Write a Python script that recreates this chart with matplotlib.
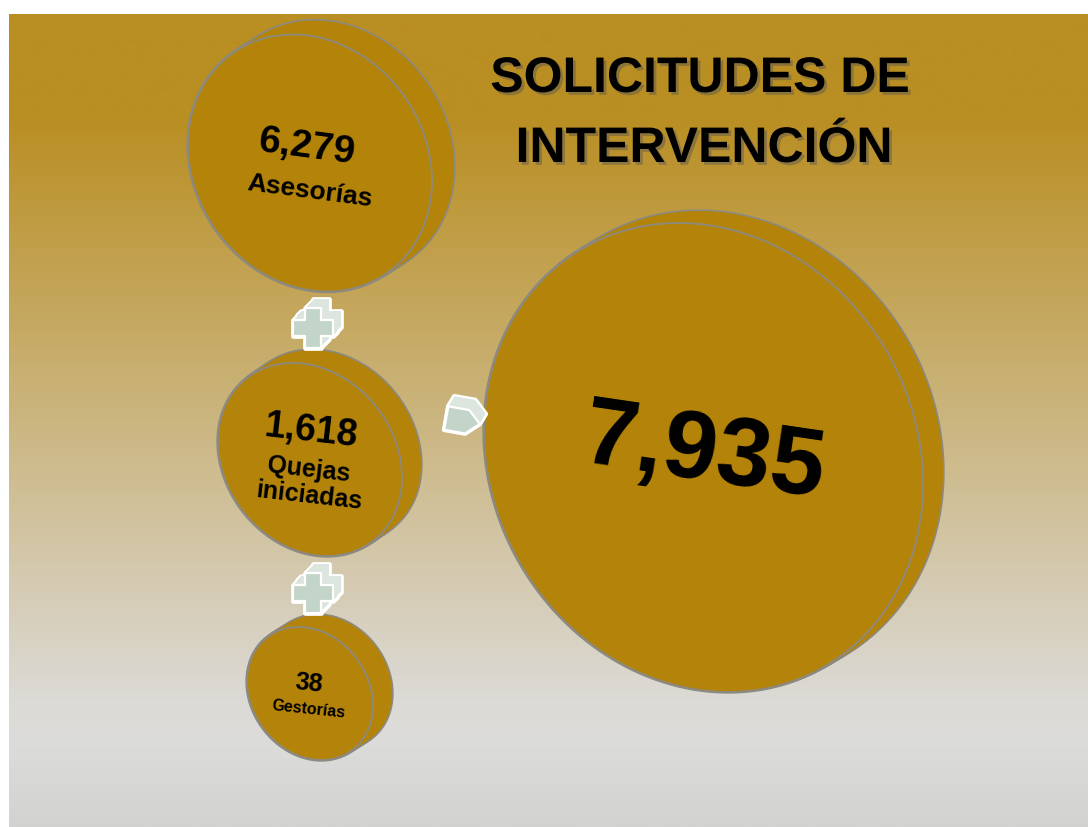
import matplotlib.pyplot as plt
import matplotlib.patheffects as pe
import numpy as np
from matplotlib.patches import Polygon

# data
values = [6279, 1618, 38]
labels = ["Asesorías", "Quejas\niniciadas", "Gestorías"]
total = sum(values)
title_lines = ["SOLICITUDES DE", "INTERVENCIÓN"]

disk_fill = "#B3830A"
disk_edge = "#8C8A80"
icon_fill = "#C3D5C9"
icon_side = "#DCE6DE"
font = "Liberation Sans"

W, H = 1088, 827
fig = plt.figure(figsize=(W / 100, H / 100), dpi=100)
fig.patch.set_facecolor("white")
ax = fig.add_axes([0, 0, 1, 1])
ax.set_xlim(0, W)
ax.set_ylim(H, 0)
ax.axis("off")

# background gradient (gold at top to light grey at bottom)
ys = np.arange(14, H + 1)
stops_y = [14, 115, 700, 740, H]
stops_c = np.array([[185, 142, 34], [185, 142, 34], [220, 218, 214],
                    [220, 220, 218], [210, 210, 208]]) / 255
grad = np.stack([np.interp(ys, stops_y, stops_c[:, i]) for i in range(3)], axis=1)
ax.imshow(grad[:, None, :], extent=[9, W, H, 14], aspect="auto", zorder=0)


def ellipse(cx, cy, sx, sy, sk, n=240):
    cov = np.array([[sx ** 2, sk * sx], [sk * sx, sy ** 2]])
    L = np.linalg.cholesky(cov)
    t = np.linspace(0, 2 * np.pi, n)
    pts = L @ np.vstack([np.cos(t), np.sin(t)])
    return np.column_stack([cx + pts[0], cy + pts[1]])


def disk(cx, cy, sx, sy, sk, off, z):
    steps = np.linspace(1, 0, 14)
    for k in steps:
        p = ellipse(cx + k * off[0], cy + k * off[1], sx, sy, sk)
        ax.add_patch(Polygon(p, closed=True, fc=disk_fill, ec=disk_edge, lw=2.4, zorder=z))
    for k in steps:
        p = ellipse(cx + k * off[0], cy + k * off[1], sx, sy, sk)
        ax.add_patch(Polygon(p, closed=True, fc=disk_fill, ec="none", zorder=z + 0.1))
    p = ellipse(cx, cy, sx, sy, sk)
    ax.add_patch(Polygon(p, closed=True, fc=disk_fill, ec=disk_edge, lw=1.3, zorder=z + 0.2))


def icon(shape, cx, cy, s, off, rot, z):
    a = np.deg2rad(rot)
    R = np.array([[np.cos(a), -np.sin(a)], [np.sin(a), np.cos(a)]])
    base = (np.array(shape) @ R.T) * s
    steps = np.linspace(1, 0, 10)
    for k in steps:
        ax.add_patch(Polygon(base + [cx + k * off[0], cy + k * off[1]], closed=True,
                             fc=icon_side, ec="white", lw=3.4, joinstyle="round", zorder=z))
    for k in steps:
        ax.add_patch(Polygon(base + [cx + k * off[0], cy + k * off[1]], closed=True,
                             fc=icon_side, ec="none", zorder=z + 0.1))
    ax.add_patch(Polygon(base + [cx, cy], closed=True, fc=icon_fill, ec="white",
                         lw=1.6, joinstyle="round", zorder=z + 0.2))


w = 0.38
plus = [(-w, -1), (w, -1), (w, -w), (1, -w), (1, w), (w, w), (w, 1), (-w, 1),
        (-w, w), (-1, w), (-1, -w), (-w, -w)]
arrow = [(-1, -0.7), (0.25, -0.7), (1, 0), (0.25, 0.7), (-1, 0.7)]

# disks
disk(310, 163, 122, 128.5, 18, (22, -14), 2)
disk(310, 459.5, 92, 96.5, 18, (19, -13), 2)
disk(310, 693.5, 63, 66.5, 12, (19, -12), 2)
disk(703.5, 457.5, 219.5, 234.5, 26.5, (20, -12), 2)

# plus and arrow icons
icon(plus, 313, 328, 20, (8, -9), 0, 5)
icon(plus, 313, 593, 20, (8, -9), 0, 5)
icon(arrow, 463, 421, 17, (6, -10), 10, 5)

# text on disks
num_style = dict(ha="center", va="center", rotation_mode="anchor",
                 family=font, weight="bold", color="black", zorder=10)
ax.text(307, 147, "{:,}".format(values[0]), fontsize=28, rotation=-7.5, **num_style)
ax.text(310, 191, labels[0], fontsize=19, rotation=-7.5, **num_style)
ax.text(311, 431, "{:,}".format(values[1]), fontsize=27, rotation=-6.5, **num_style)
q1, q2 = labels[1].split("\n")
ax.text(309, 470, q1, fontsize=18, rotation=-6.5, **num_style)
ax.text(309, 496, q2, fontsize=18, rotation=-6.5, **num_style)
ax.text(309, 683, "{:,}".format(values[2]), fontsize=18, rotation=-6, **num_style)
ax.text(309, 709, labels[2], fontsize=11.5, rotation=-6, **num_style)
ax.text(704, 455, "{:,}".format(total), fontsize=70, rotation=-8.4, **num_style)

# title with soft shadow
shadow = [pe.SimplePatchShadow(offset=(2, -2), shadow_rgbFace="#555555", alpha=0.45),
          pe.Normal()]
ax.text(700, 79, title_lines[0], ha="center", va="center", family=font,
        weight="bold", fontsize=36, color="black", path_effects=shadow, zorder=10)
ax.text(704, 149, title_lines[1], ha="center", va="center", family=font,
        weight="bold", fontsize=36, color="black", path_effects=shadow, zorder=10)

fig.savefig("out.png", dpi=100, facecolor="white")
